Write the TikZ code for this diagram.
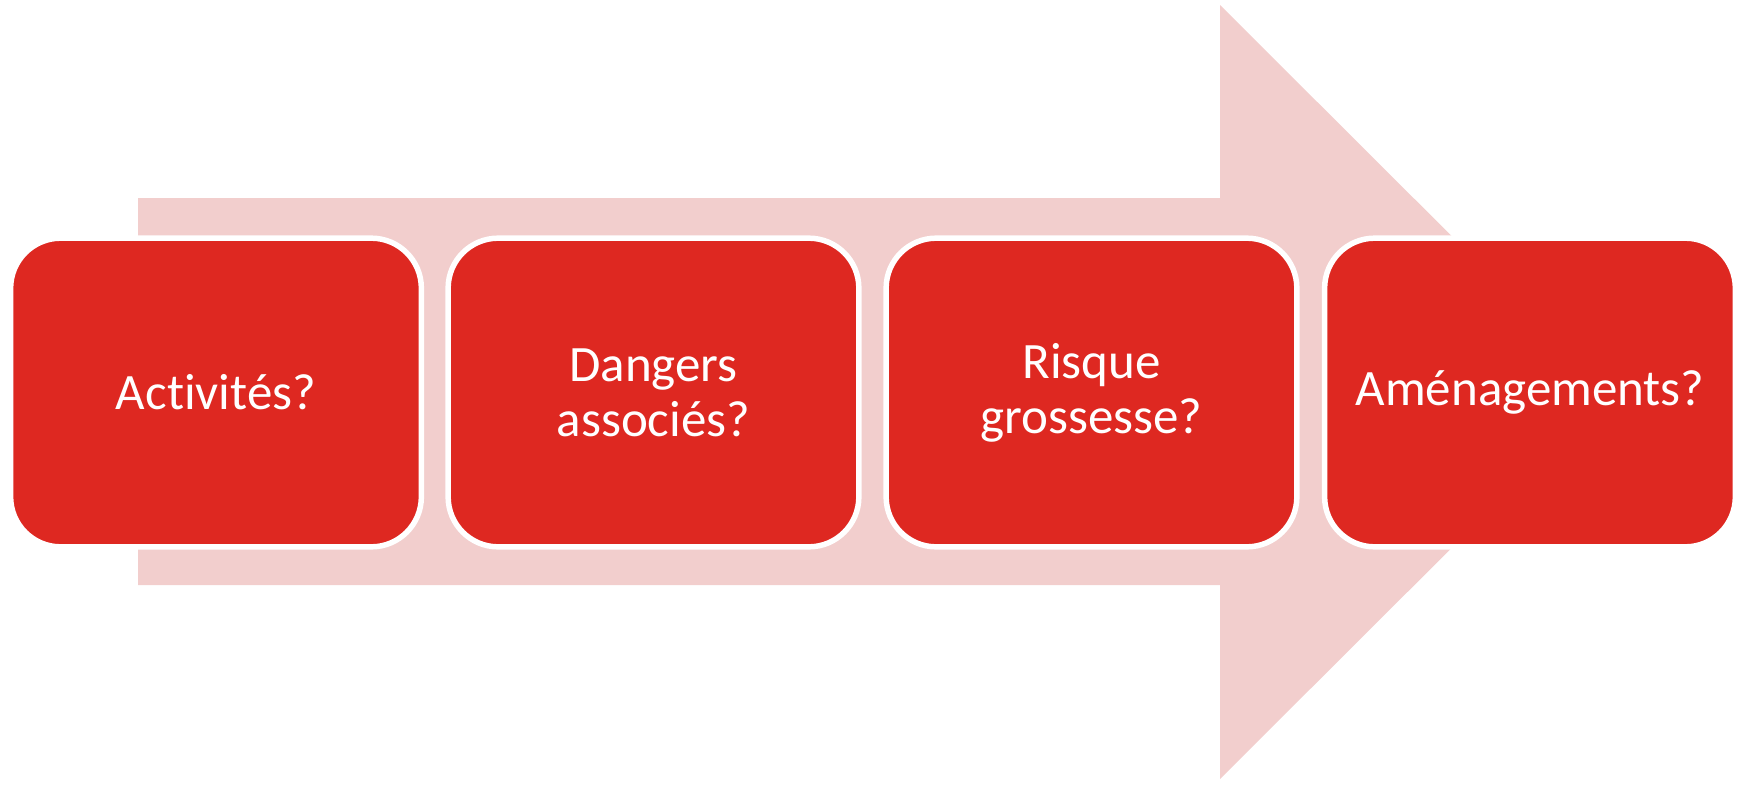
\documentclass[tikz,border=0pt]{standalone}
\usepackage{fontspec}
\setmainfont{Carlito}[Ligatures=NoCommon]
\definecolor{boxred}{RGB}{222,40,33}
\definecolor{arrowpink}{RGB}{242,206,205}
\begin{document}
\begin{tikzpicture}[x=0.01cm,y=-0.01cm,
  stepbox/.style={rectangle, rounded corners=0.5cm, fill=boxred, draw=white,
    line width=1.56pt, minimum width=4.105cm, minimum height=3.085cm,
    text=white, font=\fontsize{14.5pt}{15.6pt}\selectfont, align=center, inner sep=0pt}]
\useasboundingbox (0,0) rectangle (1741,784);
\fill[arrowpink] (138,198) -- (1220,198) -- (1220,5) -- (1608,392) -- (1220,779) -- (1220,585) -- (138,585) -- cycle;
\node[stepbox] (b1) at (216,392.5) {Activités?};
\node[stepbox] (b2) at (653.5,392.5) {Dangers\\associés?};
\node[stepbox] (b3) at (1091.5,392.5) {Risque\\grossesse?};
\node[stepbox] (b4) at (1530,392.5) {Aménagements?};
\end{tikzpicture}
\end{document}
